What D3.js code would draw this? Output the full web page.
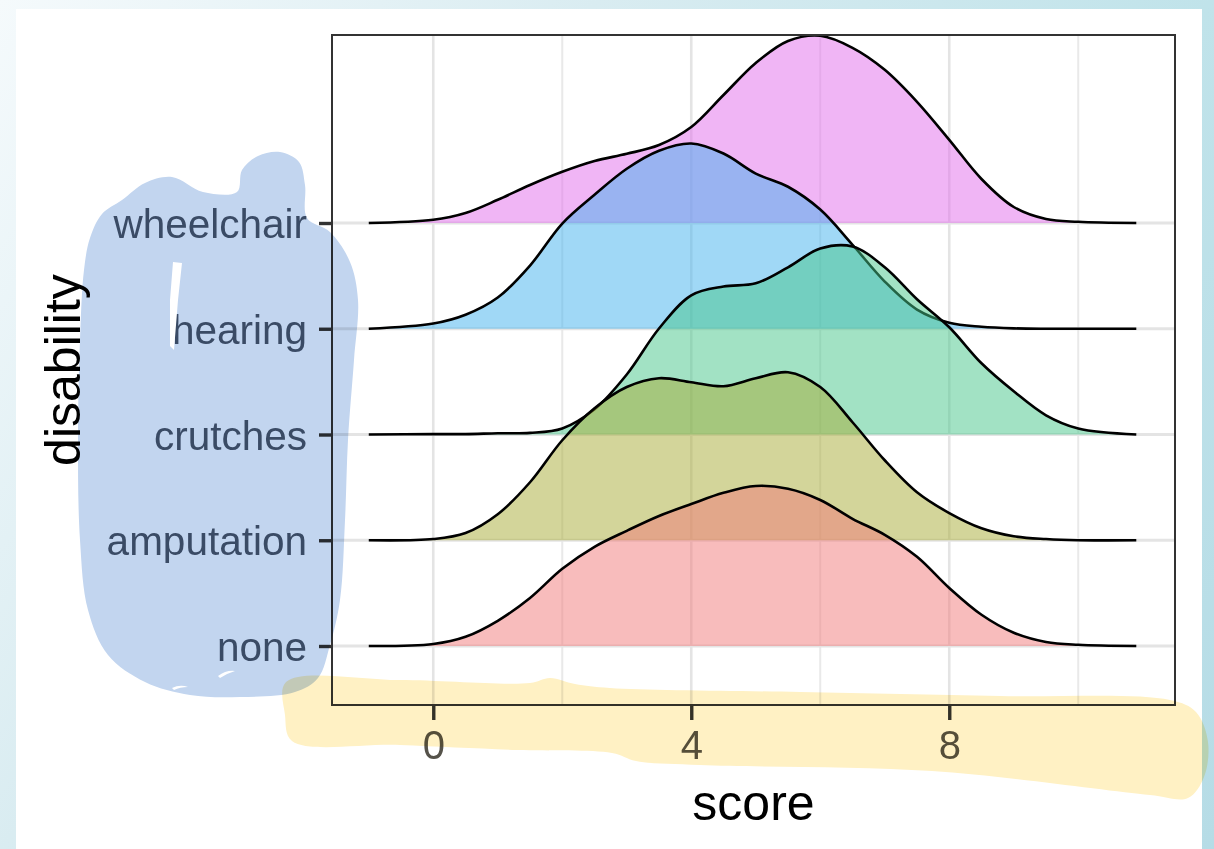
<!DOCTYPE html>
<html><head><meta charset="utf-8">
<script src="https://cdn.jsdelivr.net/npm/d3@7"></script>
<style>html,body{margin:0;padding:0;overflow:hidden;background:#fff;} svg{display:block;font-family:"Liberation Sans",Arial,Helvetica,sans-serif;}</style>
</head><body>
<svg id="chart" width="1214" height="849"></svg>
<script>
// ---------------- data ----------------
const categories = ["none", "amputation", "crutches", "hearing", "wheelchair"];
const scoreGrid = [-1, 0, 0.5, 1, 1.5, 2, 2.5, 3, 3.5, 4, 4.5, 5, 5.5, 6, 6.5, 7, 7.5, 8, 8.5, 9, 9.5, 10, 10.9];
const densWheelchair = [0, .008, .025, .058, .095, .128, .155, .173, .195, .240, .320, .400, .455, .468, .438, .383, .303, .208, .110, .040, .010, .003, 0];
const densHearing    = [0, .013, .035, .078, .158, .263, .335, .400, .445, .463, .438, .388, .355, .298, .210, .118, .048, .015, .005, .001, 0, 0, 0];
const densCrutches   = [0, .001, .001, .003, .004, .015, .063, .150, .265, .348, .370, .378, .418, .465, .470, .418, .338, .268, .178, .108, .048, .015, 0];
const densAmputation = [0, .003, .018, .065, .145, .250, .330, .383, .405, .395, .385, .405, .420, .383, .295, .200, .120, .068, .030, .010, .003, 0, 0];
const densNone       = [0, .005, .023, .063, .120, .193, .248, .288, .325, .355, .383, .400, .393, .365, .318, .278, .223, .145, .078, .033, .010, .003, 0];
const fillColors = ["#f17979", "#a7ab35", "#45c589", "#41b1ed", "#e16beb"];
const xTicks = [0, 4, 8];
const xMinorTicks = [2, 6, 10];
const xTitle = "score";
const yTitle = "disability";

const densities = {
  none: densNone, amputation: densAmputation, crutches: densCrutches,
  hearing: densHearing, wheelchair: densWheelchair
};

// ---------------- layout ----------------
const W = 1214, H = 849;
const panel = {left: 332, right: 1175, top: 35, bottom: 705};
const svg = d3.select("#chart");
const defs = svg.append("defs");

// page background
const bg = defs.append("linearGradient").attr("id", "bgGrad")
  .attr("gradientUnits", "userSpaceOnUse").attr("x1", 0).attr("y1", 0).attr("x2", W).attr("y2", H);
[[0, "#f5fafc"], [0.33, "#d9ecf1"], [0.67, "#c0e3ea"], [1, "#b6dce6"]].forEach(s =>
  bg.append("stop").attr("offset", s[0]).attr("stop-color", s[1]));
svg.append("rect").attr("width", W).attr("height", H).attr("fill", "url(#bgGrad)");
svg.append("rect").attr("x", 16).attr("y", 9).attr("width", 1186).attr("height", H - 9).attr("fill", "#ffffff");

// scales
const x = d3.scaleLinear().domain([-1.57, 11.5]).range([panel.left, panel.right]);
const y = d3.scalePoint().domain(categories).range([646, 223]);
const h = d3.scaleLinear().domain([0, 0.47]).range([0, 188]);

const plot = svg.append("g");

// grid
plot.selectAll(".gminor").data(xMinorTicks).join("line")
  .attr("x1", d => x(d)).attr("x2", d => x(d)).attr("y1", panel.top).attr("y2", panel.bottom)
  .attr("stroke", "#e9e9e9").attr("stroke-width", 2);
plot.selectAll(".gmajor").data(xTicks).join("line")
  .attr("x1", d => x(d)).attr("x2", d => x(d)).attr("y1", panel.top).attr("y2", panel.bottom)
  .attr("stroke", "#e4e4e4").attr("stroke-width", 2.6);
plot.selectAll(".gy").data(categories).join("line")
  .attr("x1", panel.left).attr("x2", panel.right).attr("y1", d => y(d)).attr("y2", d => y(d))
  .attr("stroke", "#e4e4e4").attr("stroke-width", 3);

// ridges (top first so lower ridges overlap)
const curve = d3.curveCatmullRom.alpha(0.5);
const order = categories.slice().reverse();
order.forEach(cat => {
  const i = categories.indexOf(cat);
  const pts = scoreGrid.map((s, k) => ({s, d: densities[cat][k]}));
  const base = y(cat);
  const area = d3.area().x(d => x(d.s)).y0(base).y1(d => base - Math.max(0, h(d.d))).curve(curve);
  const line = d3.line().x(d => x(d.s)).y(d => base - Math.max(0, h(d.d))).curve(curve);
  plot.append("path").datum(pts).attr("d", area).attr("fill", fillColors[i]).attr("fill-opacity", 0.5);
  plot.append("path").datum(pts).attr("d", line).attr("fill", "none").attr("stroke", "#000").attr("stroke-width", 2.6);
});

// panel border
plot.append("rect").attr("x", panel.left).attr("y", panel.top)
  .attr("width", panel.right - panel.left).attr("height", panel.bottom - panel.top)
  .attr("fill", "none").attr("stroke", "#333333").attr("stroke-width", 2);

// axes
const yAxis = d3.axisLeft(y).tickSize(13).tickPadding(12);
const gy = svg.append("g").attr("transform", `translate(${panel.left},0)`).call(yAxis);
gy.select(".domain").remove();
gy.selectAll(".tick line").attr("stroke", "#333333").attr("stroke-width", 3.4);
gy.selectAll(".tick text").attr("fill", "#4c596c").attr("font-size", 40.5).attr("dy", "0.36em")
  .attr("font-family", "Liberation Sans, Arial, sans-serif");

const xAxis = d3.axisBottom(x).tickValues(xTicks).tickSize(15).tickPadding(11).tickFormat(d3.format("d"));
const gx = svg.append("g").attr("transform", `translate(0,${panel.bottom})`).call(xAxis);
gx.select(".domain").remove();
gx.selectAll(".tick line").attr("stroke", "#333333").attr("stroke-width", 3.4);
gx.selectAll(".tick text").attr("fill", "#55524a").attr("font-size", 40).attr("dy", "0.71em")
  .attr("font-family", "Liberation Sans, Arial, sans-serif");

// titles
svg.append("text").attr("x", (panel.left + panel.right) / 2).attr("y", 820)
  .attr("text-anchor", "middle").attr("font-size", 50).attr("fill", "#000").text(xTitle);
svg.append("text").attr("transform", `translate(80,${(panel.top + panel.bottom) / 2}) rotate(-90)`)
  .attr("text-anchor", "middle").attr("font-size", 50).attr("fill", "#000").text(yTitle);

// ---------------- highlighter marks ----------------
const blobLine = d3.line().curve(d3.curveCatmullRomClosed.alpha(0.5));
const blueBlob = [[237,192],[242,170],[258,156],[280,152],[299,162],[305,185],[307,218],[330,232],[350,262],[358,300],[354,360],[348,440],[345,520],[340,600],[330,645],[318,678],[295,692],[240,697],[190,695],[145,682],[108,655],[88,610],[80,540],[78,440],[80,340],[84,270],[90,238],[102,214],[122,200],[145,183],[172,177],[203,192]];
const yellowBlob = [[286,682],[400,680],[530,683],[550,678],[575,684],[610,688],[800,692],[1000,696],[1170,700],[1196,712],[1208,742],[1204,777],[1188,798],[1150,795],[932,771],[700,765],[636,761],[612,753],[517,750],[400,745],[292,741],[285,715]];
const hl = svg.append("g");
hl.append("path").attr("d", blobLine(blueBlob)).attr("fill", "#c2d5ef").style("mix-blend-mode", "multiply");
hl.append("path").attr("d", blobLine(yellowBlob)).attr("fill", "#fff1c4").style("mix-blend-mode", "multiply");
// small gaps in the marker stroke
hl.append("path").attr("d", d3.line()([[173,262],[182,263],[178,300],[174,350],[170,346],[170,300]]) + "Z").attr("fill", "#ffffff");
hl.append("path").attr("d", "M218,676 Q226,670 235,671 Q228,673 220,678 Z").attr("fill", "#ffffff");
hl.append("path").attr("d", "M172,688 Q180,684 188,687 Q180,687 174,690 Z").attr("fill", "#ffffff");
</script>
</body></html>
